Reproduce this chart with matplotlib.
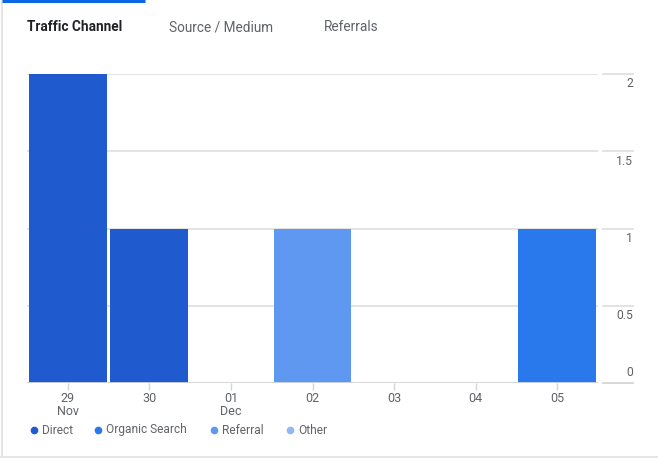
import matplotlib
matplotlib.use("Agg")
import matplotlib.pyplot as plt
from matplotlib.lines import Line2D
import matplotlib.transforms as mtransforms
import numpy as np

plt.rcParams['font.family'] = ['Roboto', 'DejaVu Sans']

categories = ["29\nNov", "30", "01\nDec", "02", "03", "04", "05"]
direct = [2, 1, 0, 0, 0, 0, 0]
organic = [0, 0, 0, 0, 0, 0, 1]
referral = [0, 0, 0, 1, 0, 0, 0]
other = [0, 0, 0, 0, 0, 0, 0]
series_names = ["Direct", "Organic Search", "Referral", "Other"]
colors = ["#1f5bcf", "#2a79ec", "#5f98f0", "#8fb8f6"]
yticks = [0, 0.5, 1, 1.5, 2]
ytick_labels = ["0", "0.5", "1", "1.5", "2"]
tabs = ["Traffic Channel", "Source / Medium", "Referrals"]

W, H = 658, 459
fig = plt.figure(figsize=(W / 100, H / 100), dpi=100)

def fx(px):
    return px / W

def fy(py):
    return 1 - py / H

L, R, T, B = 27, 598, 74, 383
ax = fig.add_axes([fx(L), fy(B), (R - L) / W, (B - T) / H])

x = np.arange(len(categories))
bottom = np.zeros(len(categories))
for vals, col in zip([direct, organic, referral, other], colors):
    v = np.array(vals, dtype=float)
    ax.bar(x, v, width=0.955, bottom=bottom, color=col, zorder=3, linewidth=0)
    bottom += v

ax.set_xlim(-0.5, len(categories) - 0.5)
ax.set_ylim(0, 2)
for s in ax.spines.values():
    s.set_visible(False)
ax.set_yticks(yticks)
ax.yaxis.grid(True, color="#e0e0e0", linewidth=1.3, zorder=0)
ax.tick_params(axis='y', left=False, labelleft=False)
ax.set_xticks(x)
ax.set_xticklabels(categories, fontsize=9, color="#5f6368", linespacing=0.95)
ax.tick_params(axis='x', length=5, color="#d5d5d5", width=1, pad=1.5)
ax.axhline(0, color="#d5d5d5", linewidth=1.3, zorder=4)

# right-hand axis labels and extended gridlines
trans = mtransforms.blended_transform_factory(ax.transAxes, ax.transData)
x0 = (603 - L) / (R - L)
x1 = (633 - L) / (R - L)
for v, lab in zip(yticks, ytick_labels):
    ax.plot([x0, x1], [v, v], transform=trans, color="#e0e0e0" if v else "#d5d5d5",
            linewidth=1.3, clip_on=False)
    if v == 0:
        ax.annotate(lab, xy=(x1, v), xycoords=trans, xytext=(0, 3),
                    textcoords="offset points", ha="right", va="bottom",
                    fontsize=8.7, color="#616161")
    else:
        ax.annotate(lab, xy=(x1, v), xycoords=trans, xytext=(0, -2.5),
                    textcoords="offset points", ha="right", va="top",
                    fontsize=8.7, color="#616161")

# tabs
fig.text(fx(27), fy(27), tabs[0], fontsize=9.8, fontweight="bold", color="#202124",
         ha="left", va="center")
fig.text(fx(169), fy(27), tabs[1], fontsize=9.8, color="#5f6368", ha="left", va="center")
fig.text(fx(324), fy(27), tabs[2], fontsize=9.8, color="#5f6368", ha="left", va="center")

# legend
leg_x = [34, 98, 214, 290]
for px, name, col in zip(leg_x, series_names, colors):
    fig.add_artist(Line2D([fx(px)], [fy(430)], marker="o", markersize=4.5,
                          color=col, linestyle="none", transform=fig.transFigure))
    fig.text(fx(px + 8), fy(430), name, fontsize=8.6, color="#5f6368",
             ha="left", va="center")

# card borders and active tab underline
fig.add_artist(Line2D([fx(1.5), fx(1.5)], [fy(0), fy(457)], color="#e3e3e3",
                      linewidth=1.3, transform=fig.transFigure))
fig.add_artist(Line2D([fx(0), fx(658)], [fy(457), fy(457)], color="#e3e3e3",
                      linewidth=1.3, transform=fig.transFigure))
fig.add_artist(Line2D([fx(2), fx(145)], [fy(1), fy(1)], color="#0b66e4",
                      linewidth=2.2, transform=fig.transFigure, solid_capstyle="butt"))

fig.savefig("out.png", dpi=100, facecolor="white")
